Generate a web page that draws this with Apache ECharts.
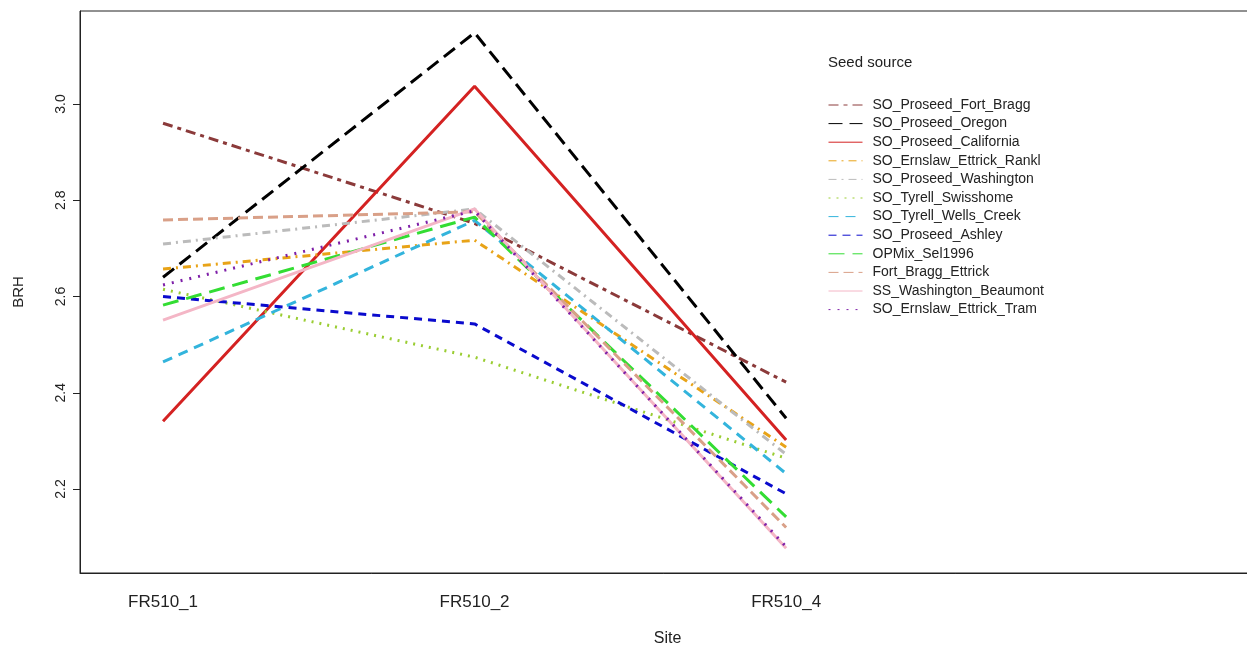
<!DOCTYPE html>
<html>
<head>
<meta charset="utf-8">
<script src="https://cdn.jsdelivr.net/npm/echarts@6/dist/echarts.min.js"></script>
<style>
  html, body { margin: 0; padding: 0; background: #fff; }
  #chart { width: 1247px; height: 648px; }
</style>
</head>
<body>
<div id="chart"></div>
<script>
// sites on the x axis
var sites = ["FR510_1", "FR510_2", "FR510_4"];
var yTicks = [2.2, 2.4, 2.6, 2.8, 3.0];

// mean BRH per seed source at each site
var fortBragg    = [2.96, 2.752, 2.422];
var oregon       = [2.64, 3.148, 2.347];
var california   = [2.341, 3.037, 2.302];
var rankl        = [2.657, 2.717, 2.287];
var washington   = [2.709, 2.782, 2.272];
var swisshome    = [2.615, 2.474, 2.264];
var wellsCreek   = [2.464, 2.758, 2.232];
var ashley       = [2.60, 2.543, 2.19];
var opmix        = [2.582, 2.765, 2.142];
var fbEttrick    = [2.759, 2.776, 2.12];
var ssWashington = [2.551, 2.782, 2.077];
var tram         = [2.624, 2.778, 2.08];

var seedNames = [
  "SO_Proseed_Fort_Bragg", "SO_Proseed_Oregon", "SO_Proseed_California",
  "SO_Ernslaw_Ettrick_Rankl", "SO_Proseed_Washington", "SO_Tyrell_Swisshome",
  "SO_Tyrell_Wells_Creek", "SO_Proseed_Ashley", "OPMix_Sel1996",
  "Fort_Bragg_Ettrick", "SS_Washington_Beaumont", "SO_Ernslaw_Ettrick_Tram"
];
var seedValues = [fortBragg, oregon, california, rankl, washington, swisshome,
  wellsCreek, ashley, opmix, fbEttrick, ssWashington, tram];
var seedColors = ["#8B3A3A", "#000000", "#D42222", "#E8A317", "#BBBBBB", "#9ACD32",
  "#33B4DC", "#0A0ACD", "#33DD33", "#D9A088", "#F4B6C6", "#7E1FA8"];
var seedDash = [[10, 5, 4, 5], [14, 7], "solid", [8, 5, 2, 5], [8, 5, 2, 5], [2, 6],
  [10, 7], [8, 6], [16, 8], [10, 5], "solid", [2, 7]];

var font = "'Liberation Sans', Arial, sans-serif";

var series = [];
for (var i = 0; i < seedNames.length; i++) {
  var pts = [];
  for (var j = 0; j < sites.length; j++) {
    pts.push([j + 1, seedValues[i][j]]);
  }
  series.push({
    name: seedNames[i],
    type: "line",
    data: pts,
    symbol: "none",
    color: seedColors[i],
    lineStyle: { width: 3, type: seedDash[i], color: seedColors[i] }
  });
}

var chart = echarts.init(document.getElementById("chart"));
chart.setOption({
  animation: false,
  title: {
    text: "Seed source",
    left: 823,
    top: 50,
    textStyle: { fontFamily: font, fontSize: 15, fontWeight: "normal", color: "#222" }
  },
  legend: {
    orient: "vertical",
    left: 823,
    top: 93,
    selectedMode: false,
    itemWidth: 34,
    itemHeight: 14,
    itemGap: 4.6,
    lineStyle: { width: 1 },
    itemStyle: { opacity: 0 },
    textStyle: { fontFamily: font, fontSize: 14, color: "#222", lineHeight: 14, padding: [0, 0, 0, 5] },
    data: seedNames
  },
  grid: {
    left: 80, right: -8, top: 11, bottom: 75,
    outerBoundsMode: "none",
    containLabel: false,
    show: true, borderColor: "#222", borderWidth: 1
  },
  xAxis: {
    type: "value",
    min: 0.7335,
    max: 4.505,
    name: "Site",
    nameLocation: "middle",
    nameGap: 58,
    nameTextStyle: { fontFamily: font, fontSize: 16, color: "#222" },
    axisLine: { lineStyle: { color: "#222" } },
    axisTick: { show: false },
    splitLine: { show: false },
    axisLabel: {
      customValues: [1, 2, 3],
      margin: 21,
      fontFamily: font, fontSize: 17, color: "#222",
      formatter: function (v) { return sites[Math.round(v) - 1]; }
    }
  },
  yAxis: {
    type: "value",
    min: 2.0255,
    max: 3.1932,
    name: "BRH",
    nameLocation: "middle",
    nameGap: 54,
    nameRotate: 90,
    nameTextStyle: { fontFamily: font, fontSize: 15, color: "#222" },
    axisLine: { show: true, lineStyle: { color: "#222" } },
    axisTick: { show: true, length: 7, customValues: yTicks, lineStyle: { color: "#222" } },
    splitLine: { show: false },
    axisLabel: {
      customValues: yTicks,
      rotate: 90,
      margin: 12,
      fontFamily: font, fontSize: 14, color: "#222",
      formatter: function (v) { return v.toFixed(1); }
    }
  },
  series: series
});
</script>
</body>
</html>
